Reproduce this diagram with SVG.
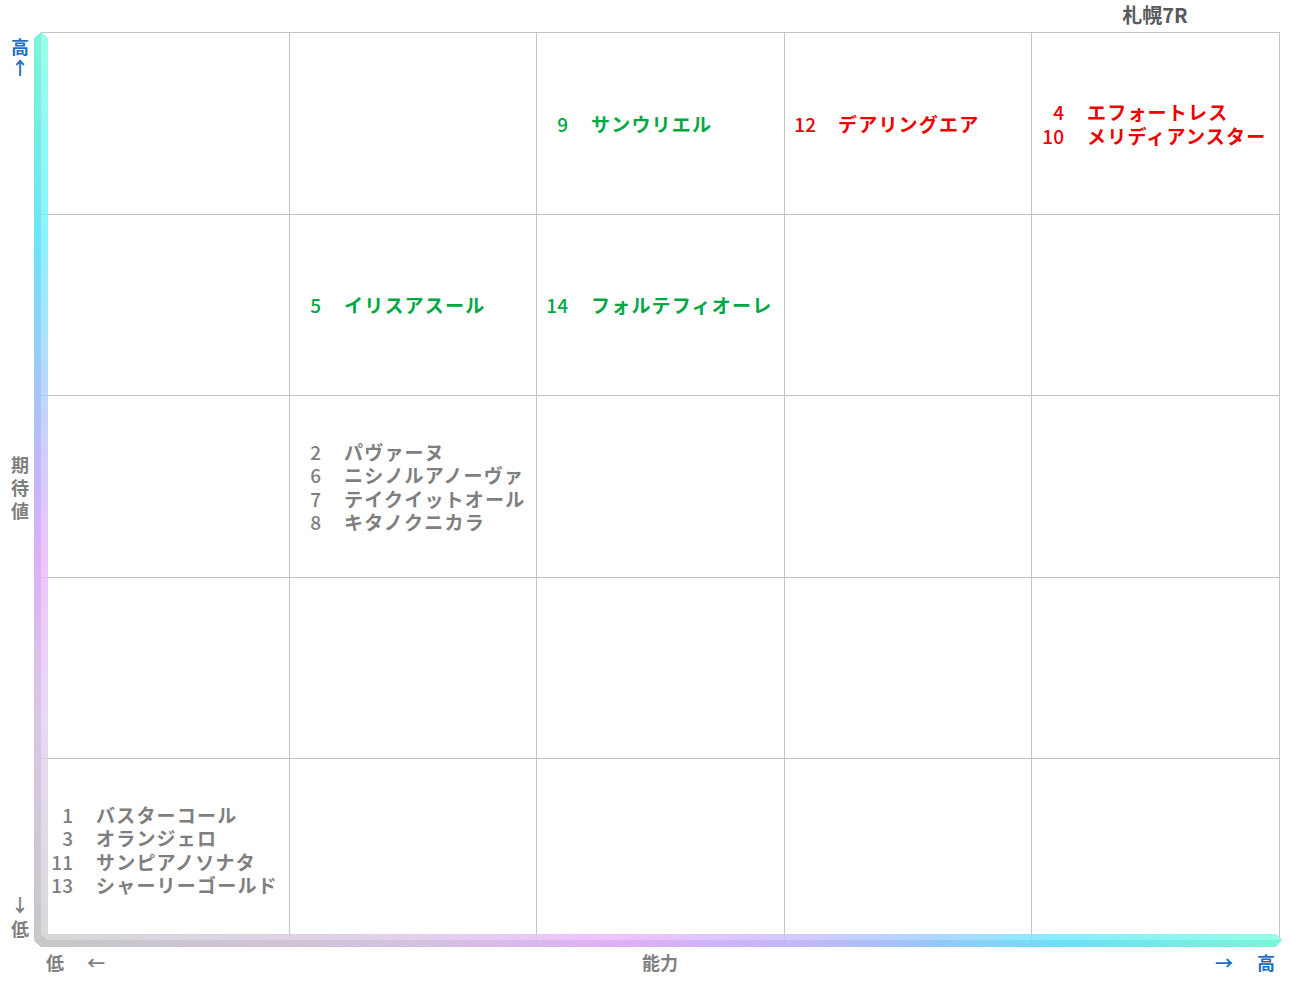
<svg xmlns="http://www.w3.org/2000/svg" width="1291" height="983" viewBox="0 0 1291 983">
<style>
text{font-family:"Noto Sans CJK JP","Noto Sans",sans-serif;font-weight:bold;dominant-baseline:central}
.grid line{stroke:#c4c4c4;stroke-width:1}
.lbl{font-size:19px;letter-spacing:1.2px}
.num{font-size:19px;font-weight:500;text-anchor:end}
.g{fill:#00a844}
.r{fill:#f00000}
.k{fill:#7f7f7f}
.ax{font-size:18px;text-anchor:middle}
.blue{fill:#1f6fc0}
.gray{fill:#7f7f7f}
</style>
<defs>
<linearGradient id="gv" gradientUnits="userSpaceOnUse" x1="0" y1="32" x2="0" y2="945">
<stop offset="0" stop-color="#80ffe0"/>
<stop offset="0.22" stop-color="#70f0ff"/>
<stop offset="0.36" stop-color="#a0d4ff"/>
<stop offset="0.47" stop-color="#c8c0ff"/>
<stop offset="0.58" stop-color="#e8b8ff"/>
<stop offset="0.75" stop-color="#e2d0f0"/>
<stop offset="1" stop-color="#d0d0d0"/>
</linearGradient>
<linearGradient id="gh" gradientUnits="userSpaceOnUse" x1="34" y1="0" x2="1282" y2="0">
<stop offset="0" stop-color="#d0d0d0"/>
<stop offset="0.3" stop-color="#dccae8"/>
<stop offset="0.47" stop-color="#e8b8ff"/>
<stop offset="0.62" stop-color="#c8c0ff"/>
<stop offset="0.72" stop-color="#a0d0ff"/>
<stop offset="0.82" stop-color="#70eaff"/>
<stop offset="1" stop-color="#80ffe0"/>
</linearGradient>
</defs>
<rect width="1291" height="983" fill="#ffffff"/>
<g id="grid" class="grid">
<line x1="41" y1="32.5" x2="1279" y2="32.5"/>
<line x1="41" y1="214.5" x2="1279" y2="214.5"/>
<line x1="41" y1="395.5" x2="1279" y2="395.5"/>
<line x1="41" y1="577.5" x2="1279" y2="577.5"/>
<line x1="41" y1="758.5" x2="1279" y2="758.5"/>
<line x1="289.5" y1="32" x2="289.5" y2="940"/>
<line x1="536.5" y1="32" x2="536.5" y2="940"/>
<line x1="784.5" y1="32" x2="784.5" y2="940"/>
<line x1="1031.5" y1="32" x2="1031.5" y2="940"/>
<line x1="1279.5" y1="32" x2="1279.5" y2="940"/>
</g>
<g id="connectors">
<g id="axis-y">
<polygon points="34,38 41,32 41,934 34,941" fill="url(#gv)"/>
<polygon points="41,32 48,38 48,934 41,934" fill="url(#gv)" opacity="0.8"/>
<polygon points="34,38 41,32 41,934 34,941" fill="#000" opacity="0.04"/>
</g>
<g id="axis-x">
<polygon points="41,934 1276,934 1282,940 48,940" fill="url(#gh)" opacity="0.85"/>
<polygon points="34,941 41,934 48,940 1282,940 1276,947 41,947" fill="url(#gh)"/>
<polygon points="34,941 41,934 48,940 1282,940 1276,947 41,947" fill="#000" opacity="0.04"/>
</g>
</g>
<g id="title"><text x="1155" y="14" text-anchor="middle" style="font-size:20px;fill:#595959">札幌7R</text></g>
<g id="y-axis-labels">
<text class="ax blue" x="20" y="46">高</text>
<text class="ax blue" x="20" y="67">↑</text>
<text class="ax gray" x="20" y="464">期</text>
<text class="ax gray" x="20" y="487">待</text>
<text class="ax gray" x="20" y="510">値</text>
<text class="ax gray" x="20" y="904">↓</text>
<text class="ax gray" x="20" y="928">低</text>
</g>
<g id="x-axis-labels">
<text class="ax gray" x="55" y="962">低</text>
<text class="ax gray" x="96" y="962">←</text>
<text class="ax gray" x="660" y="962">能力</text>
<text class="ax blue" x="1224" y="962">→</text>
<text class="ax blue" x="1266" y="962">高</text>
</g>
<g id="cell-r1c3">
<text class="num g" x="568" y="123">9</text><text class="lbl g" x="591" y="123">サンウリエル</text>
</g>
<g id="cell-r1c4">
<text class="num r" x="816" y="123">12</text><text class="lbl r" x="838" y="123">デアリングエア</text>
</g>
<g id="cell-r1c5">
<text class="num r" x="1064" y="111">4</text><text class="lbl r" x="1087" y="111">エフォートレス</text>
<text class="num r" x="1064" y="135">10</text><text class="lbl r" x="1087" y="135">メリディアンスター</text>
</g>
<g id="cell-r2c2">
<text class="num g" x="321" y="304">5</text><text class="lbl g" x="344" y="304">イリスアスール</text>
</g>
<g id="cell-r2c3">
<text class="num g" x="568" y="304">14</text><text class="lbl g" x="591" y="304">フォルテフィオーレ</text>
</g>
<g id="cell-r3c2">
<text class="num k" x="321" y="451">2</text><text class="lbl k" x="344" y="451">パヴァーヌ</text>
<text class="num k" x="321" y="474.5">6</text><text class="lbl k" x="344" y="474.5">ニシノルアノーヴァ</text>
<text class="num k" x="321" y="498">7</text><text class="lbl k" x="344" y="498">テイクイットオール</text>
<text class="num k" x="321" y="521">8</text><text class="lbl k" x="344" y="521">キタノクニカラ</text>
</g>
<g id="cell-r5c1">
<text class="num k" x="73" y="814">1</text><text class="lbl k" x="96" y="814">バスターコール</text>
<text class="num k" x="73" y="837">3</text><text class="lbl k" x="96" y="837">オランジェロ</text>
<text class="num k" x="73" y="861">11</text><text class="lbl k" x="96" y="861">サンピアノソナタ</text>
<text class="num k" x="73" y="884">13</text><text class="lbl k" x="96" y="884">シャーリーゴールド</text>
</g>
</svg>
